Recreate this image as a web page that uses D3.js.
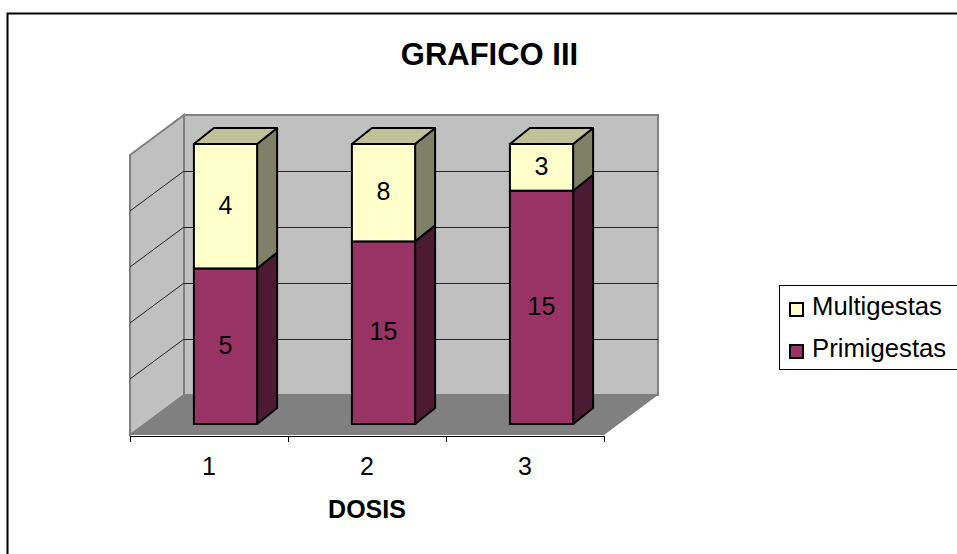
<!DOCTYPE html>
<html>
<head>
<meta charset="utf-8">
<script src="https://cdn.jsdelivr.net/npm/d3@7"></script>
<style>
  html, body { margin: 0; padding: 0; background: #fff; overflow: hidden; }
  text { font-family: "Liberation Sans", Arial, sans-serif; fill: #000; }
</style>
</head>
<body>
<div id="chart"></div>
<script>
const dosis = ["1", "2", "3"];
const primigestas = [5, 15, 15];
const multigestas = [4, 8, 3];
const gridSteps = [0, 0.2, 0.4, 0.6, 0.8, 1];

const width = 957;
const height = 554;

const svg = d3
  .select("#chart")
  .append("svg")
  .attr("width", width)
  .attr("height", height);

// marco del grafico, solo arriba y a la izquierda
svg.append("path")
  .attr("d", "M7.5,554V13.5H957")
  .attr("fill", "none")
  .attr("stroke", "#000")
  .attr("stroke-width", 2);

svg.append("text")
  .attr("x", 489.5)
  .attr("y", 65)
  .attr("text-anchor", "middle")
  .attr("font-size", "31px")
  .attr("font-weight", "bold")
  .text("GRAFICO III");

// escalas: 100% apilado, un plano para cada profundidad
const x = d3.scaleBand().domain(dosis).range([130, 604]).paddingInner(0.6).paddingOuter(0.3);
const yFront = d3.scaleLinear().domain([0, 1]).range([435, 155]);
const yBack = d3.scaleLinear().domain([0, 1]).range([395, 115]);
const yBar = d3.scaleLinear().domain([0, 1]).range([424, 144]);

const wallDx = 54;
const barShift = 16.5;
const barDx = 20;
const barDy = -16;

const x0 = x.range()[0];
const x1 = x.range()[1];

// paredes y piso
svg.append("polygon")
  .attr("points", [[x0 + wallDx, yBack(0)], [x1 + wallDx, yBack(0)], [x1 + wallDx, yBack(1)], [x0 + wallDx, yBack(1)]].join(" "))
  .attr("fill", "#c0c0c0")
  .attr("stroke", "#808080")
  .attr("stroke-width", 2);

svg.append("polygon")
  .attr("points", [[x0, yFront(0)], [x0 + wallDx, yBack(0)], [x0 + wallDx, yBack(1)], [x0, yFront(1)]].join(" "))
  .attr("fill", "#c0c0c0")
  .attr("stroke", "#808080")
  .attr("stroke-width", 2);

svg.append("polygon")
  .attr("points", [[x0, yFront(0)], [x1, yFront(0)], [x1 + wallDx, yBack(0)], [x0 + wallDx, yBack(0)]].join(" "))
  .attr("fill", "#808080");

// lineas de cuadricula
const inner = gridSteps.slice(1, -1);
svg.selectAll(".grid-back")
  .data(inner)
  .enter()
  .append("line")
  .attr("x1", x0 + wallDx)
  .attr("x2", x1 + wallDx)
  .attr("y1", d => yBack(d) + 0.5)
  .attr("y2", d => yBack(d) + 0.5)
  .attr("stroke", "#222");

svg.selectAll(".grid-side")
  .data(inner)
  .enter()
  .append("line")
  .attr("x1", x0)
  .attr("x2", x0 + wallDx)
  .attr("y1", d => yFront(d))
  .attr("y2", d => yBack(d))
  .attr("stroke", "#222");

// eje x
const axis = svg.append("g")
  .attr("transform", "translate(0,436)")
  .call(d3.axisBottom(x).tickSize(0).tickPadding(21));
axis.select(".domain").attr("stroke", "#000").attr("d", `M${x0},0.5H${x1}`);
axis.selectAll("text").attr("font-size", "25px").attr("font-family", '"Liberation Sans", Arial, sans-serif');

svg.selectAll(".tick-mark")
  .data(d3.range(dosis.length + 1))
  .enter()
  .append("line")
  .attr("x1", i => x0 + i * x.step() + 0.5)
  .attr("x2", i => x0 + i * x.step() + 0.5)
  .attr("y1", 436)
  .attr("y2", 442)
  .attr("stroke", "#000");

svg.append("text")
  .attr("x", 367)
  .attr("y", 518)
  .attr("text-anchor", "middle")
  .attr("font-size", "25px")
  .attr("font-weight", "bold")
  .text("DOSIS");

// barras
const series = [
  { name: "Primigestas", values: primigestas, front: "#993366", side: "#4d1a33", top: "#993366" },
  { name: "Multigestas", values: multigestas, front: "#ffffcc", side: "#808066", top: "#c0c099" },
];

const stacked = dosis.map((d, i) => {
  const total = primigestas[i] + multigestas[i];
  const split = primigestas[i] / total;
  return [
    { d, s: series[0], v: primigestas[i], y0: 0, y1: split },
    { d, s: series[1], v: multigestas[i], y0: split, y1: 1 },
  ];
}).flat();

const bars = svg.selectAll(".bar")
  .data(stacked)
  .enter()
  .append("g")
  .attr("class", "bar");

const barLeft = d => x(d.d) + barShift;
const barRight = d => barLeft(d) + x.bandwidth();

bars.append("polygon")
  .attr("points", d => [
    [barRight(d), yBar(d.y0)],
    [barRight(d) + barDx, yBar(d.y0) + barDy],
    [barRight(d) + barDx, yBar(d.y1) + barDy],
    [barRight(d), yBar(d.y1)],
  ].join(" "))
  .attr("fill", d => d.s.side)
  .attr("stroke", "#000")
  .attr("stroke-width", 2)
  .attr("stroke-linejoin", "round");

bars.filter(d => d.y1 === 1)
  .append("polygon")
  .attr("points", d => [
    [barLeft(d), yBar(1)],
    [barRight(d), yBar(1)],
    [barRight(d) + barDx, yBar(1) + barDy],
    [barLeft(d) + barDx, yBar(1) + barDy],
  ].join(" "))
  .attr("fill", d => d.s.top)
  .attr("stroke", "#000")
  .attr("stroke-width", 2)
  .attr("stroke-linejoin", "round");

bars.append("rect")
  .attr("x", barLeft)
  .attr("y", d => yBar(d.y1))
  .attr("width", x.bandwidth())
  .attr("height", d => yBar(d.y0) - yBar(d.y1))
  .attr("fill", d => d.s.front)
  .attr("stroke", "#000")
  .attr("stroke-width", 2);

bars.append("text")
  .attr("x", d => barLeft(d) + x.bandwidth() / 2)
  .attr("y", d => (yBar(d.y0) + yBar(d.y1)) / 2 + 7.5)
  .attr("text-anchor", "middle")
  .attr("font-size", "25px")
  .text(d => d.v);

// leyenda
const legend = svg.append("g");
legend.append("rect")
  .attr("x", 779.5)
  .attr("y", 285.5)
  .attr("width", 190)
  .attr("height", 84)
  .attr("fill", "#fff")
  .attr("stroke", "#000");

const legendItems = legend.selectAll(".item")
  .data(series.slice().reverse())
  .enter()
  .append("g")
  .attr("transform", (d, i) => `translate(0,${i * 42})`);

legendItems.append("rect")
  .attr("x", 790)
  .attr("y", 303)
  .attr("width", 13)
  .attr("height", 13)
  .attr("fill", d => d.front)
  .attr("stroke", "#000")
  .attr("stroke-width", 2);

legendItems.append("text")
  .attr("x", 812)
  .attr("y", 315)
  .attr("font-size", "25.7px")
  .text(d => d.name);
</script>
</body>
</html>
